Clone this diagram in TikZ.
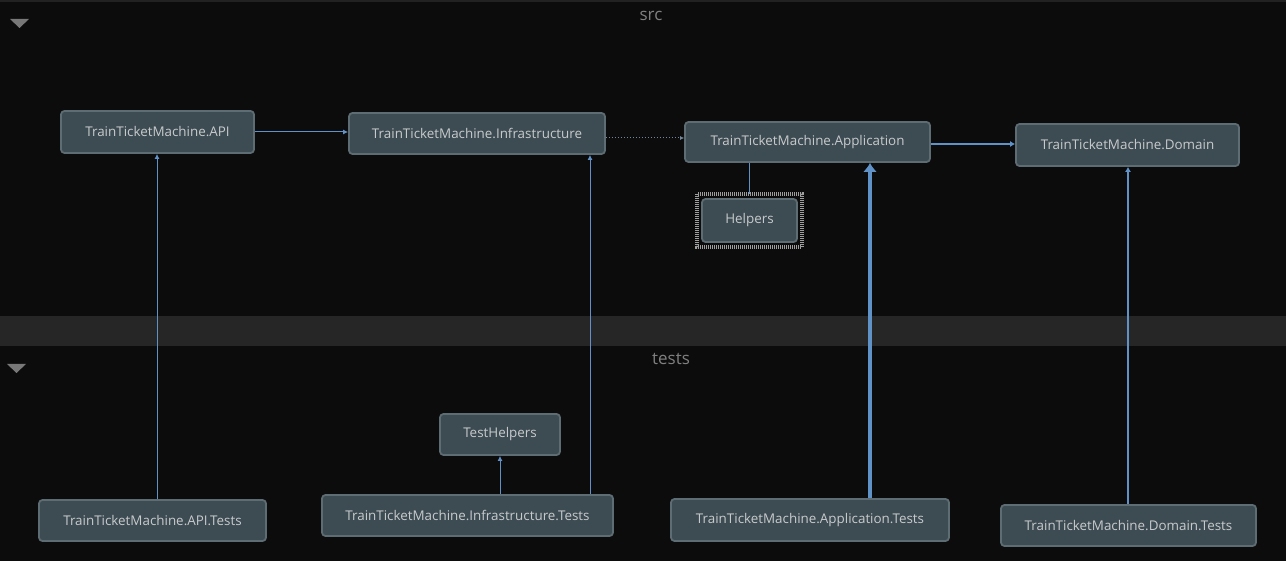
\documentclass[tikz,border=0pt]{standalone}
\usepackage{fontspec}
\setmainfont{Open Sans}
\usetikzlibrary{arrows.meta}
\definecolor{bgc}{RGB}{12,12,12}
\definecolor{bandc}{RGB}{38,38,38}
\definecolor{topc}{RGB}{34,34,34}
\definecolor{nodefill}{RGB}{61,75,82}
\definecolor{nodeline}{RGB}{94,108,115}
\definecolor{nodetext}{RGB}{200,203,205}
\definecolor{edgec}{RGB}{96,146,200}
\definecolor{grouptext}{RGB}{128,128,128}
\definecolor{tric}{RGB}{120,120,120}
\tikzset{
  proj/.style={draw=nodeline, line width=1.8pt, fill=nodefill, rounded corners=3.5pt,
    text=nodetext, font=\fontsize{13.4}{16}\selectfont, inner sep=0pt, anchor=center},
  dep/.style={draw=edgec, line width=1pt, -{Latex[length=5pt,width=5pt]}},
  thickdep/.style={draw=edgec, line width=2pt, -{Latex[length=5pt,width=6pt]}},
  heavydep/.style={draw=edgec, line width=4pt, -{Latex[length=9pt,width=14pt]}},
  grp/.style={text=grouptext, font=\fontsize{17}{20}\selectfont, inner sep=0pt},
  tri/.style={fill=tric, draw=none}
}
\begin{document}
\begin{tikzpicture}[x=1pt,y=-1pt]
\useasboundingbox (0,0) rectangle (1286,561);
\fill[bgc] (0,0) rectangle (1286,561);
\fill[topc] (0,0) rectangle (1286,2);
\fill[bandc] (0,316) rectangle (1286,346);
% group headers
\node[grp] (src) at (651,16) {src};
\node[grp] (tests) at (671,359) {tests};
\fill[tri] (10,19) -- (29,19) -- (19.5,28) -- cycle;
\fill[tri] (7,364) -- (26,364) -- (16.5,373) -- cycle;
% nodes
\node[proj, minimum width=193pt, minimum height=42pt] (api) at (157.5,132) {TrainTicketMachine.API};
\node[proj, minimum width=256pt, minimum height=41pt] (infra) at (477,133.5) {TrainTicketMachine.Infrastructure};
\node[proj, minimum width=245pt, minimum height=40pt] (app) at (807.5,142) {TrainTicketMachine.Application};
\node[proj, minimum width=223pt, minimum height=42pt] (dom) at (1127.5,145) {TrainTicketMachine.Domain};
\draw[gray!75, line width=4pt, dash pattern=on 1pt off 1pt] (697,194) rectangle (802,247);
\node[proj, minimum width=95pt, minimum height=43pt] (helpers) at (749.5,220.5) {Helpers};
\node[proj, minimum width=120pt, minimum height=41pt] (testhelpers) at (500,434.5) {TestHelpers};
\node[proj, minimum width=227pt, minimum height=41pt] (apit) at (152.5,520.5) {TrainTicketMachine.API.Tests};
\node[proj, minimum width=291pt, minimum height=41pt] (infrat) at (467.5,515.5) {TrainTicketMachine.Infrastructure.Tests};
\node[proj, minimum width=278pt, minimum height=42pt] (appt) at (810,520) {TrainTicketMachine.Application.Tests};
\node[proj, minimum width=255pt, minimum height=41pt] (domt) at (1128.5,525.5) {TrainTicketMachine.Domain.Tests};
% connector anchors
\coordinate (helpersTop) at (749.5,194);
% edges
\draw[dep] (api.east |- 0,132) -- (infra.west |- 0,132);
\draw[draw=edgec!40!gray, line width=1pt, dotted, -{Latex[length=4pt,width=4pt]}] (infra.east |- 0,138) -- (app.west |- 0,138);
\draw[thickdep] (app.east |- 0,144) -- (dom.west |- 0,144);
\draw[draw=edgec, line width=1pt] (app.south -| helpersTop) -- (helpersTop);
\draw[dep] (apit.north -| 157,0) -- (api.south -| 157,0);
\draw[dep] (infrat.north -| 590,0) -- (infra.south -| 590,0);
\draw[dep] (infrat.north -| 500,0) -- (testhelpers.south);
\draw[heavydep] (appt.north -| 870,0) -- (app.south -| 870,0);
\draw[thickdep] (domt.north -| 1128,0) -- (dom.south -| 1128,0);
\end{tikzpicture}
\end{document}
